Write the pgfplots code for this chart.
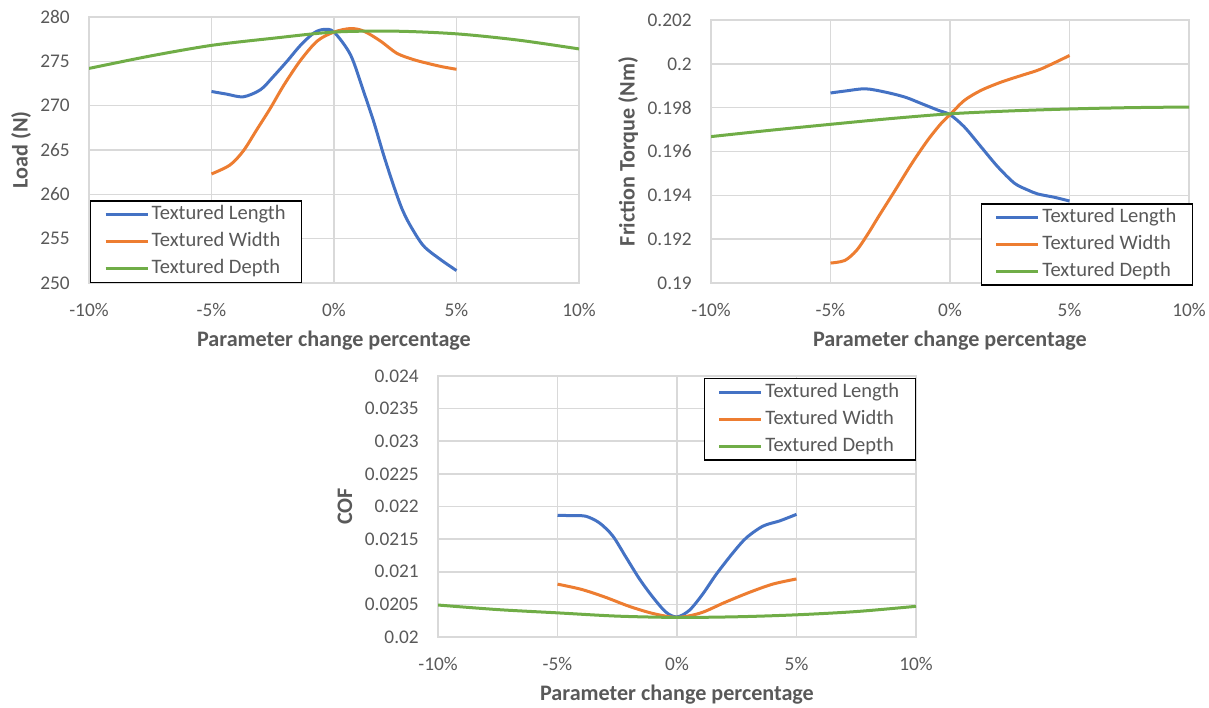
\documentclass[border=0pt]{standalone}
\usepackage{fontspec}
\setmainfont{Carlito}
\usepackage{pgfplots}
\pgfplotsset{compat=1.18}
\definecolor{cblue}{HTML}{4472C4}
\definecolor{corange}{HTML}{ED7D31}
\definecolor{cgreen}{HTML}{70AD47}
\definecolor{cgrid}{HTML}{D9D9D9}
\definecolor{ctext}{HTML}{595959}
\pgfplotsset{
 excel/.style={
  scale only axis,
  xmin=-10, xmax=10,
  xtick={-10,-5,0,5,10},
  xticklabels={-10\%,-5\%,0\%,5\%,10\%},
  scaled y ticks=false,
  grid=major,
  major grid style={cgrid, line width=1.2pt},
  axis line style={cgrid, line width=1.2pt},
  major tick length=0pt,
  /pgf/number format/assume math mode=true,
  tick label style={font=\fontsize{14.5}{16}\selectfont, text=ctext, inner sep=0pt},
  yticklabel style={xshift=-14.25pt},
  xticklabel style={yshift=-15pt},
  xlabel={Parameter change percentage},
  xlabel style={at={(axis description cs:0.5,0)}, anchor=north, yshift=-36pt, inner sep=0pt, font=\fontsize{16.6}{18}\selectfont\bfseries, text=ctext},
  ylabel style={font=\fontsize{16.6}{18}\selectfont\bfseries, text=ctext, anchor=center, inner sep=0pt},
  legend cell align=left,
  legend image code/.code={\draw[#1] (0pt,0pt) -- (31.5pt,0pt);},
  legend style={draw=black, line width=1.1pt, font=\fontsize{15.4}{17}\selectfont, text=ctext,
     inner xsep=10pt, inner ysep=3.4pt, row sep=6.75pt,
     nodes={inner xsep=2pt, inner ysep=0pt, text height=10.5pt, text depth=3pt}},
  every axis plot/.append style={line width=2.25pt, smooth, no markers},
 }
}
\begin{document}
\begin{tikzpicture}
\path[use as bounding box] (0,0) rectangle (906.75pt,530.25pt);
% ---------- Load ----------
\begin{axis}[excel, at={(66.75pt,318pt)}, anchor=south west,
  width=367.5pt, height=199.5pt,
  ymin=250, ymax=280, ytick={250,255,...,280},
  ylabel={Load (N)}, ylabel style={at={(axis description cs:-0.1388,0.5)}},
  legend style={at={(axis description cs:0.002,0)}, anchor=south west}]
\addplot[cblue] coordinates {(-5,271.6) (-4.38,271.3) (-3.7,271.0) (-3.0,271.8) (-2.47,273.3) (-1.92,275.0) (-1.37,276.8) (-0.82,278.2) (-0.41,278.6) (0,278.3) (0.68,275.7) (1.22,271.5) (1.62,268.2) (2.03,264.4) (2.43,261.0) (2.77,258.4) (3.11,256.5) (3.65,254.2) (4.32,252.7) (5,251.4)};
\addplot[corange] coordinates {(-5,262.3) (-4.25,263.3) (-3.7,264.9) (-3.15,267.3) (-2.6,269.7) (-2.05,272.3) (-1.37,275.1) (-0.68,277.3) (0,278.3) (0.68,278.7) (1.22,278.4) (1.89,277.3) (2.57,275.9) (3.24,275.2) (3.78,274.8) (4.4,274.4) (5,274.1)};
\addplot[cgreen] coordinates {(-10,274.2) (-7.5,275.6) (-5,276.8) (-2.5,277.6) (0,278.3) (2.5,278.4) (5,278.1) (7.5,277.4) (10,276.4)};
\legend{Textured Length,Textured Width,Textured Depth}
\end{axis}
% ---------- Friction torque ----------
\begin{axis}[excel, at={(533.25pt,318pt)}, anchor=south west,
  width=358.5pt, height=197.25pt,
  ymin=0.19, ymax=0.202, ytick={0.19,0.192,0.194,0.196,0.198,0.2,0.202},
  yticklabels={0.19,0.192,0.194,0.196,0.198,0.2,0.202},
  ylabel={Friction Torque (Nm)}, ylabel style={at={(axis description cs:-0.1736,0.5)}},
  legend style={at={(axis description cs:1,0)}, anchor=south east, xshift=3pt, yshift=-2pt}]
\addplot[cblue] coordinates {(-5,0.19867) (-4.38,0.19876) (-3.54,0.19886) (-2.71,0.19871) (-1.88,0.19848) (-1.18,0.19818) (-0.49,0.19788) (0,0.19768) (0.6,0.19712) (1.3,0.19621) (2.0,0.19530) (2.7,0.19455) (3.26,0.19424) (3.68,0.19406) (4.37,0.19391) (5,0.19374)};
\addplot[corange] coordinates {(-5,0.19091) (-4.4,0.19103) (-3.9,0.19150) (-3.4,0.19230) (-2.99,0.19303) (-2.29,0.19424) (-1.6,0.19545) (-0.93,0.19652) (-0.38,0.19727) (0,0.19768) (0.6,0.19833) (1.3,0.19879) (2.15,0.19917) (2.99,0.19947) (3.82,0.19977) (5,0.20038)};
\addplot[cgreen] coordinates {(-10,0.19668) (-7.5,0.19697) (-5,0.19724) (-2.5,0.19750) (0,0.19772) (2.5,0.19785) (5,0.19794) (7.5,0.19800) (10,0.19803)};
\legend{Textured Length,Textured Width,Textured Depth}
\end{axis}
% ---------- COF ----------
\begin{axis}[excel, at={(328.5pt,52.5pt)}, anchor=south west,
  width=358.5pt, height=195.75pt,
  ymin=0.02, ymax=0.024, ytick={0.02,0.0205,0.021,0.0215,0.022,0.0225,0.023,0.0235,0.024},
  yticklabels={0.02,0.0205,0.021,0.0215,0.022,0.0225,0.023,0.0235,0.024},
  ylabel={COF}, ylabel style={at={(axis description cs:-0.1946,0.5)}},
  legend style={at={(axis description cs:1,1)}, anchor=north east, yshift=-1.5pt}]
\addplot[cblue] coordinates {(-5,0.021864) (-4.37,0.02186) (-3.81,0.02185) (-3.25,0.02175) (-2.69,0.02155) (-2.13,0.02122) (-1.57,0.02089) (-1.01,0.02061) (-0.46,0.02038) (0,0.020308) (0.52,0.02041) (1.08,0.02066) (1.64,0.02096) (2.34,0.02129) (2.9,0.02152) (3.6,0.02170) (4.3,0.02178) (5,0.02188)};
\addplot[corange] coordinates {(-5,0.02081) (-4,0.02073) (-3,0.02061) (-2,0.02047) (-1,0.02036) (0,0.02030) (1,0.02037) (2,0.02053) (3,0.02068) (4,0.02081) (5,0.02089)};
\addplot[cgreen] coordinates {(-10,0.02049) (-7.5,0.02042) (-5,0.02037) (-2.5,0.02032) (0,0.02030) (2.5,0.02031) (5,0.02034) (7.5,0.02039) (10,0.02047)};
\legend{Textured Length,Textured Width,Textured Depth}
\end{axis}
\end{tikzpicture}
\end{document}
